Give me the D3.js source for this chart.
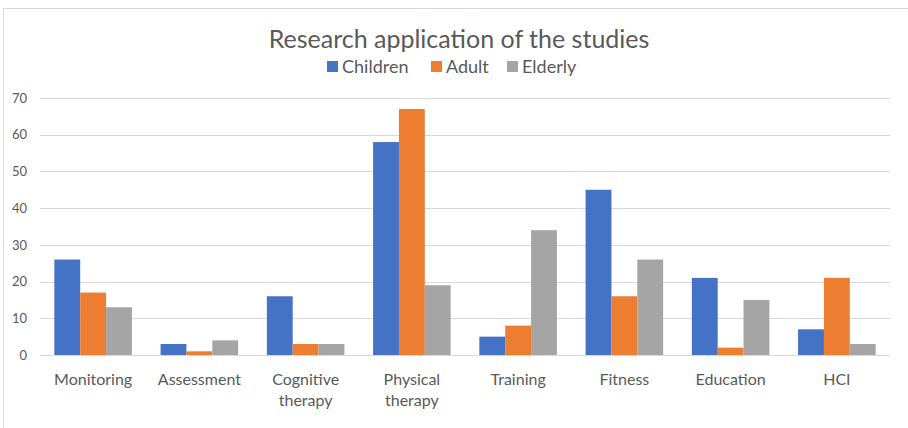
<!DOCTYPE html>
<html>
<head>
<meta charset="utf-8">
<script src="https://cdn.jsdelivr.net/npm/d3@7"></script>
<style>
  body { margin: 0; background: #fff; }
  text { font-family: Lato, "Open Sans", sans-serif; }
</style>
</head>
<body>
<div id="chart"></div>
<script>
// Data
var categories = ["Monitoring", "Assessment", "Cognitive therapy", "Physical therapy", "Training", "Fitness", "Education", "HCI"];
var seriesNames = ["Children", "Adult", "Elderly"];
var children = [26, 3, 16, 58, 5, 45, 21, 7];
var adult = [17, 1, 3, 67, 8, 16, 2, 21];
var elderly = [13, 4, 3, 19, 34, 26, 15, 3];
var yTicks = [0, 10, 20, 30, 40, 50, 60, 70];
var colors = ["#4472C4", "#ED7D31", "#A5A5A5"];

var svgWidth = 908;
var svgHeight = 428;

var margin = { top: 98, right: 18, bottom: 73, left: 40 };
var chartWidth = svgWidth - margin.left - margin.right;
var chartHeight = svgHeight - margin.top - margin.bottom;

var svg = d3.select("#chart")
    .append("svg")
    .attr("width", svgWidth)
    .attr("height", svgHeight);

// chart frame
svg.append("rect")
    .attr("x", 3.5)
    .attr("y", 8.5)
    .attr("width", 920)
    .attr("height", 440)
    .attr("fill", "none")
    .attr("stroke", "#D9D9D9");

var chartGroup = svg.append("g")
    .attr("transform", `translate(${margin.left}, ${margin.top})`);

var xScale = d3.scaleBand()
    .domain(categories)
    .range([0, chartWidth])
    .paddingInner(0.27)
    .paddingOuter(0.135);

var xSub = d3.scaleBand()
    .domain(seriesNames)
    .range([0, xScale.bandwidth()]);

var yScale = d3.scaleLinear()
    .domain([0, 70])
    .range([chartHeight, 0]);

// gridlines
chartGroup.selectAll(".grid")
    .data(yTicks)
    .enter().append("line")
    .attr("class", "grid")
    .attr("x1", 0)
    .attr("x2", chartWidth)
    .attr("y1", d => Math.round(yScale(d)) + 0.5)
    .attr("y2", d => Math.round(yScale(d)) + 0.5)
    .attr("stroke", "#D9D9D9")
    .attr("stroke-width", 1);

// y-axis labels
var leftAxis = d3.axisLeft(yScale).tickValues(yTicks).tickSize(0).tickPadding(13);
chartGroup.append("g")
    .call(leftAxis)
    .call(g => g.select(".domain").remove())
    .selectAll("text")
    .attr("fill", "#595959")
    .style("font-size", "13px")
    .style("font-family", "Lato, sans-serif");

// bars
var rows = categories.map((c, i) => ({ cat: c, values: [children[i], adult[i], elderly[i]] }));

var groups = chartGroup.selectAll(".cat")
    .data(rows)
    .enter().append("g")
    .attr("class", "cat")
    .attr("transform", d => `translate(${xScale(d.cat)}, 0)`);

groups.selectAll("rect")
    .data(d => d.values.map((v, j) => ({ name: seriesNames[j], value: v, color: colors[j] })))
    .enter().append("rect")
    .attr("x", d => xSub(d.name))
    .attr("y", d => yScale(d.value))
    .attr("width", xSub.bandwidth())
    .attr("height", d => chartHeight - yScale(d.value))
    .attr("fill", d => d.color);

// x-axis labels (wrapped on two lines)
var bottomAxis = d3.axisBottom(xScale).tickSize(0).tickPadding(0);
var xAxis = chartGroup.append("g")
    .attr("transform", `translate(0, ${chartHeight})`)
    .call(bottomAxis);
xAxis.select(".domain").remove();
xAxis.selectAll("text").remove();
xAxis.selectAll(".tick").each(function(d) {
    var words = d.split(" ");
    var t = d3.select(this).append("text")
        .attr("text-anchor", "middle")
        .attr("fill", "#595959")
        .style("font-size", "16px")
        .style("font-family", "Lato, sans-serif");
    words.forEach(function(w, k) {
        t.append("tspan")
            .attr("x", 0)
            .attr("y", 30 + k * 21)
            .text(w);
    });
});

// title
svg.append("text")
    .attr("x", 459)
    .attr("y", 48)
    .attr("text-anchor", "middle")
    .attr("fill", "#595959")
    .style("font-size", "25px")
    .text("Research application of the studies");

// legend
var legendX = [327, 431, 507];
var legend = svg.selectAll(".legend")
    .data(seriesNames)
    .enter().append("g")
    .attr("class", "legend")
    .attr("transform", (d, i) => `translate(${legendX[i]}, 67)`);

legend.append("rect")
    .attr("x", 0)
    .attr("y", -6)
    .attr("width", 11)
    .attr("height", 11)
    .attr("fill", (d, i) => colors[i]);

legend.append("text")
    .attr("x", 15)
    .attr("y", 6)
    .attr("fill", "#595959")
    .style("font-size", "18px")
    .text(d => d);
</script>
</body>
</html>
